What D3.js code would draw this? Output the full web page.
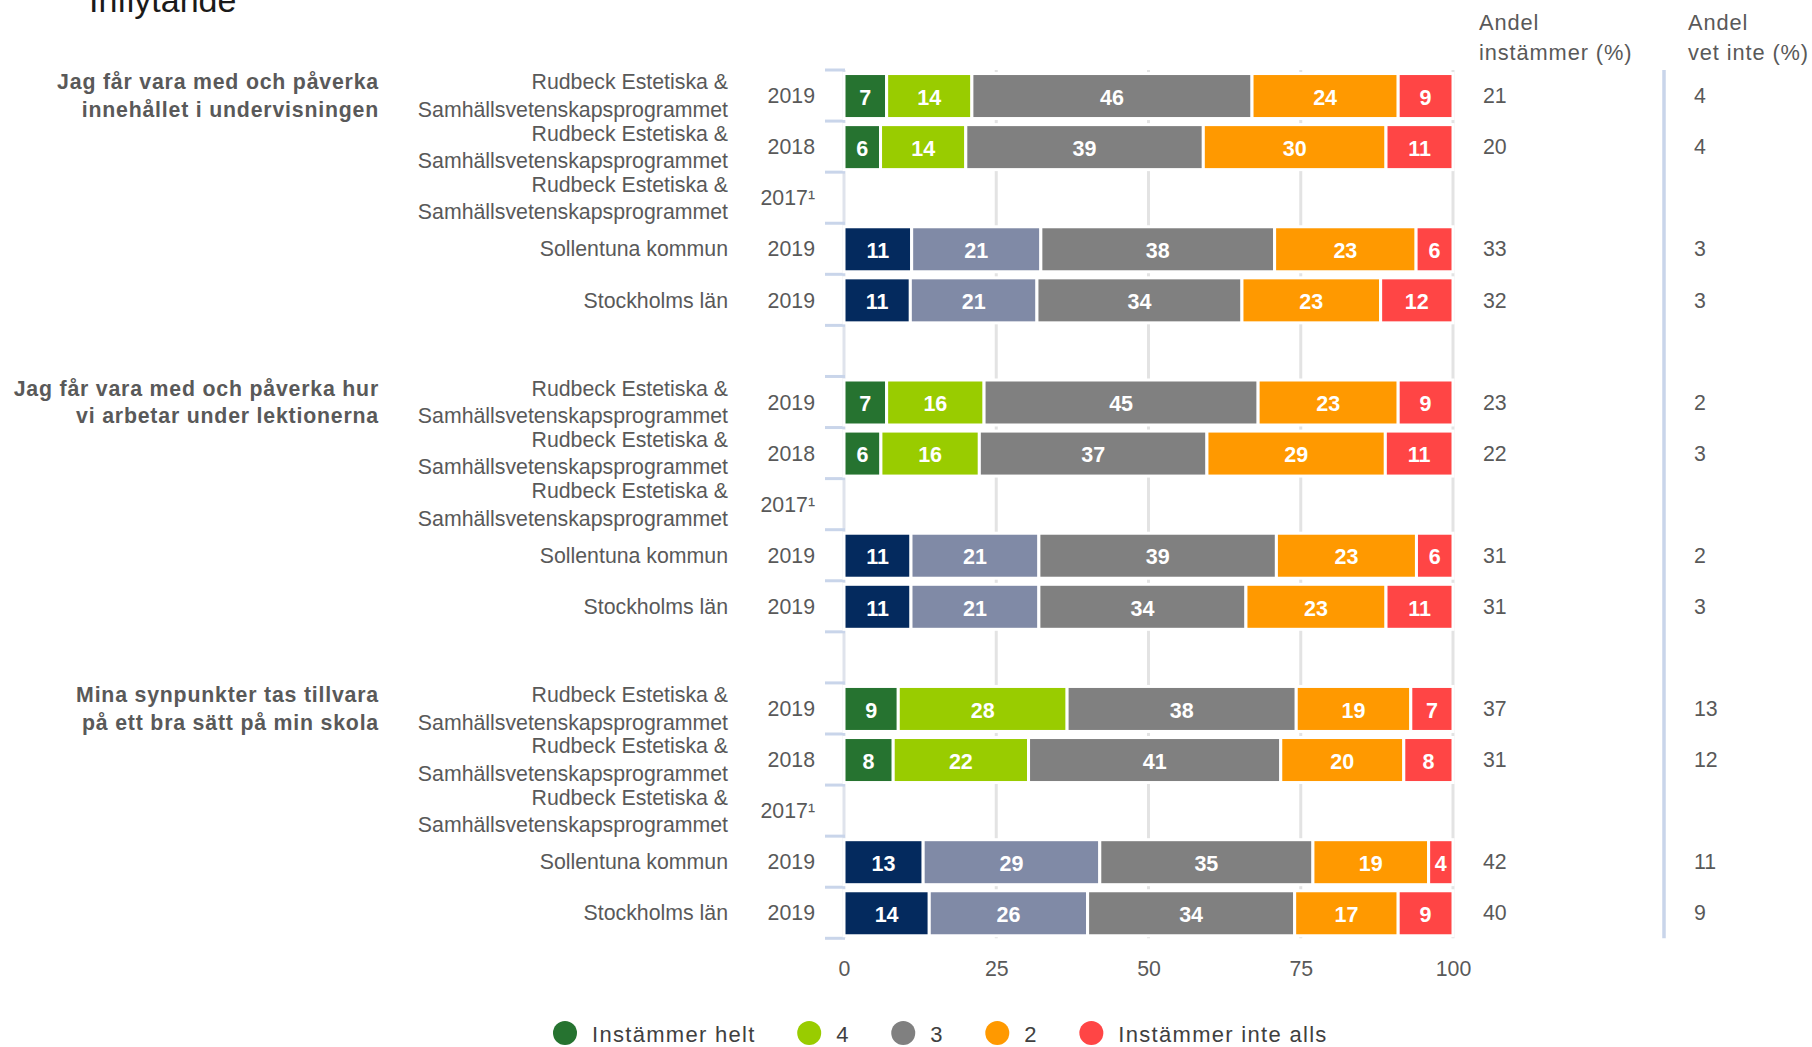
<!DOCTYPE html>
<html>
<head>
<meta charset="utf-8">
<script src="https://cdn.jsdelivr.net/npm/d3@7"></script>
<style>
  body { margin: 0; background: #fff; }
  svg { display: block; font-family: "Liberation Sans", Arial, sans-serif; }
</style>
</head>
<body>
<svg id="chart" width="1812" height="1047"></svg>
<script>
// svarskategorier (legend)
const categories = ["Instämmer helt", "4", "3", "2", "Instämmer inte alls"];
const schoolColors = ["#267330", "#99cc00", "#808080", "#ff9900", "#ff4545"];
const compareColors = ["#042a5e", "#808aa6", "#808080", "#ff9900", "#ff4545"];

const questions = [
  ["Jag får vara med och påverka", "innehållet i undervisningen"],
  ["Jag får vara med och påverka hur", "vi arbetar under lektionerna"],
  ["Mina synpunkter tas tillvara", "på ett bra sätt på min skola"]
];
const units = [
  ["Rudbeck Estetiska &", "Samhällsvetenskapsprogrammet"],
  ["Rudbeck Estetiska &", "Samhällsvetenskapsprogrammet"],
  ["Rudbeck Estetiska &", "Samhällsvetenskapsprogrammet"],
  ["Sollentuna kommun"],
  ["Stockholms län"]
];
const years = ["2019", "2018", "2017¹", "2019", "2019"];

// andelar per rad (null = inga data 2017)
const q1Values = [[7, 14, 46, 24, 9], [6, 14, 39, 30, 11], null, [11, 21, 38, 23, 6], [11, 21, 34, 23, 12]];
const q2Values = [[7, 16, 45, 23, 9], [6, 16, 37, 29, 11], null, [11, 21, 39, 23, 6], [11, 21, 34, 23, 11]];
const q3Values = [[9, 28, 38, 19, 7], [8, 22, 41, 20, 8], null, [13, 29, 35, 19, 4], [14, 26, 34, 17, 9]];

const q1Agree = [21, 20, null, 33, 32];
const q2Agree = [23, 22, null, 31, 31];
const q3Agree = [37, 31, null, 42, 40];
const q1DontKnow = [4, 4, null, 3, 3];
const q2DontKnow = [2, 3, null, 2, 3];
const q3DontKnow = [13, 12, null, 11, 9];

const xTicks = [0, 25, 50, 75, 100];

const allValues = [q1Values, q2Values, q3Values];
const allAgree = [q1Agree, q2Agree, q3Agree];
const allDontKnow = [q1DontKnow, q2DontKnow, q3DontKnow];

// bygg rader: 5 per fråga + en tom rad mellan frågorna
let rows = [];
let bandKeys = [];
for (let q = 0; q < questions.length; q++) {
  for (let r = 0; r < years.length; r++) {
    let key = "q" + q + "r" + r;
    bandKeys.push(key);
    rows.push({
      key: key, q: q, r: r,
      values: allValues[q][r],
      agree: allAgree[q][r],
      dontKnow: allDontKnow[q][r]
    });
  }
  if (q < questions.length - 1) bandKeys.push("gap" + q);
}

const svg = d3.select("#chart");
const textColor = "#595959";
const fontSize = 21.3;

const y = d3.scaleBand().domain(bandKeys).range([70, 938.3]).paddingInner(0).paddingOuter(0);
const x = d3.scaleLinear().domain([0, 100]).range([844, 1453]);

const barH = 45;
const barOffset = (y.bandwidth() - barH) / 2 + 0.5;

// rubrik (avklippt högst upp)
svg.append("text")
  .attr("x", 89).attr("y", 12)
  .attr("font-size", 34).attr("fill", "#1a1a1a")
  .text("Inflytande");

// rutnät
svg.append("g").selectAll("line")
  .data(xTicks)
  .join("line")
  .attr("x1", d => x(d)).attr("x2", d => x(d))
  .attr("y1", 70).attr("y2", 938.3)
  .attr("stroke", d => d == 0 ? "#dfe3ec" : "#e3e3e3")
  .attr("stroke-width", 3);

// små streck vid bandgränserna
let boundaries = bandKeys.map(k => y(k)).concat([y.range()[1]]);
svg.append("g").selectAll("line")
  .data(boundaries)
  .join("line")
  .attr("x1", 825).attr("x2", 845)
  .attr("y1", d => d).attr("y2", d => d)
  .attr("stroke", "#c9d5ea")
  .attr("stroke-width", 3);

// x-axel etiketter
const xAxis = d3.axisBottom(x).tickValues(xTicks).tickSize(0).tickPadding(0);
const axisG = svg.append("g")
  .attr("transform", "translate(0,960.5)")
  .call(xAxis);
axisG.select(".domain").remove();
axisG.selectAll("text")
  .attr("font-size", fontSize)
  .attr("font-family", "Liberation Sans, Arial, sans-serif")
  .attr("fill", textColor);

// staplar
const stack = d3.stack().keys(d3.range(categories.length)).offset(d3.stackOffsetExpand);
let dataRows = rows.filter(d => d.values);
let series = stack(dataRows.map(d => d.values));

let segments = [];
series.forEach((s, i) => {
  s.forEach((seg, j) => {
    let row = dataRows[j];
    segments.push({
      row: row, cat: i,
      x0: seg[0] * 100, x1: seg[1] * 100,
      value: row.values[i]
    });
  });
});

const barG = svg.append("g");
barG.selectAll("rect")
  .data(segments)
  .join("rect")
  .attr("x", d => x(d.x0))
  .attr("y", d => y(d.row.key) + barOffset)
  .attr("width", d => x(d.x1) - x(d.x0))
  .attr("height", barH)
  .attr("fill", d => d.row.r < 3 ? schoolColors[d.cat] : compareColors[d.cat])
  .attr("stroke", "#fff")
  .attr("stroke-width", 3);

barG.selectAll("text")
  .data(segments)
  .join("text")
  .attr("x", d => x((d.x0 + d.x1) / 2))
  .attr("y", d => y(d.row.key) + y.bandwidth() / 2 + 1.5)
  .attr("dy", "0.36em")
  .attr("text-anchor", "middle")
  .attr("font-size", 21.5)
  .attr("font-weight", "bold")
  .attr("fill", "#fff")
  .text(d => d.value);

// radetiketter
const labelG = svg.append("g").attr("fill", textColor).attr("font-size", fontSize);
rows.forEach(d => {
  let cy = y(d.key) + y.bandwidth() / 2;
  let lines = units[d.r];
  lines.forEach((t, i) => {
    labelG.append("text")
      .attr("x", 728)
      .attr("y", cy + (i - (lines.length - 1) / 2) * 27.5)
      .attr("dy", "0.36em")
      .attr("text-anchor", "end")
      .text(t);
  });
  labelG.append("text")
    .attr("x", 815)
    .attr("y", cy)
    .attr("dy", "0.36em")
    .attr("text-anchor", "end")
    .text(years[d.r]);

  if (d.agree != null) {
    labelG.append("text")
      .attr("x", 1483).attr("y", cy).attr("dy", "0.36em")
      .text(d.agree);
    labelG.append("text")
      .attr("x", 1694).attr("y", cy).attr("dy", "0.36em")
      .text(d.dontKnow);
  }
});

// frågetexter
questions.forEach((lines, q) => {
  let cy = y("q" + q + "r0") + y.bandwidth() / 2;
  lines.forEach((t, i) => {
    svg.append("text")
      .attr("x", 379)
      .attr("y", cy + (i - 0.5) * 27.5)
      .attr("dy", "0.36em")
      .attr("text-anchor", "end")
      .attr("font-size", fontSize)
      .attr("font-weight", "bold")
      .attr("letter-spacing", "0.8px")
      .attr("fill", textColor)
      .text(t);
  });
});

// kolumnrubriker
const headers = [["Andel", "instämmer (%)", 1479], ["Andel", "vet inte (%)", 1688]];
headers.forEach(h => {
  svg.append("text").attr("x", h[2]).attr("y", 30)
    .attr("font-size", 21.8).attr("letter-spacing", "0.9px")
    .attr("fill", textColor).text(h[0]);
  svg.append("text").attr("x", h[2]).attr("y", 60)
    .attr("font-size", 21.8).attr("letter-spacing", "0.9px")
    .attr("fill", textColor).text(h[1]);
});

// avskiljare
svg.append("line")
  .attr("x1", 1664).attr("x2", 1664)
  .attr("y1", 70).attr("y2", 938.3)
  .attr("stroke", "#c9d5ea")
  .attr("stroke-width", 3.5);

// legend
const legendG = svg.append("g");
let lx = 553;
categories.forEach((c, i) => {
  legendG.append("circle")
    .attr("cx", lx + 12).attr("cy", 1033).attr("r", 12)
    .attr("fill", schoolColors[i]);
  let t = legendG.append("text")
    .attr("x", lx + 39).attr("y", 1042)
    .attr("font-size", 22)
    .attr("letter-spacing", "1.3px")
    .attr("fill", "#404040")
    .text(c);
  lx = lx + 39 + t.node().getComputedTextLength() + 41.5;
});
</script>
</body>
</html>
